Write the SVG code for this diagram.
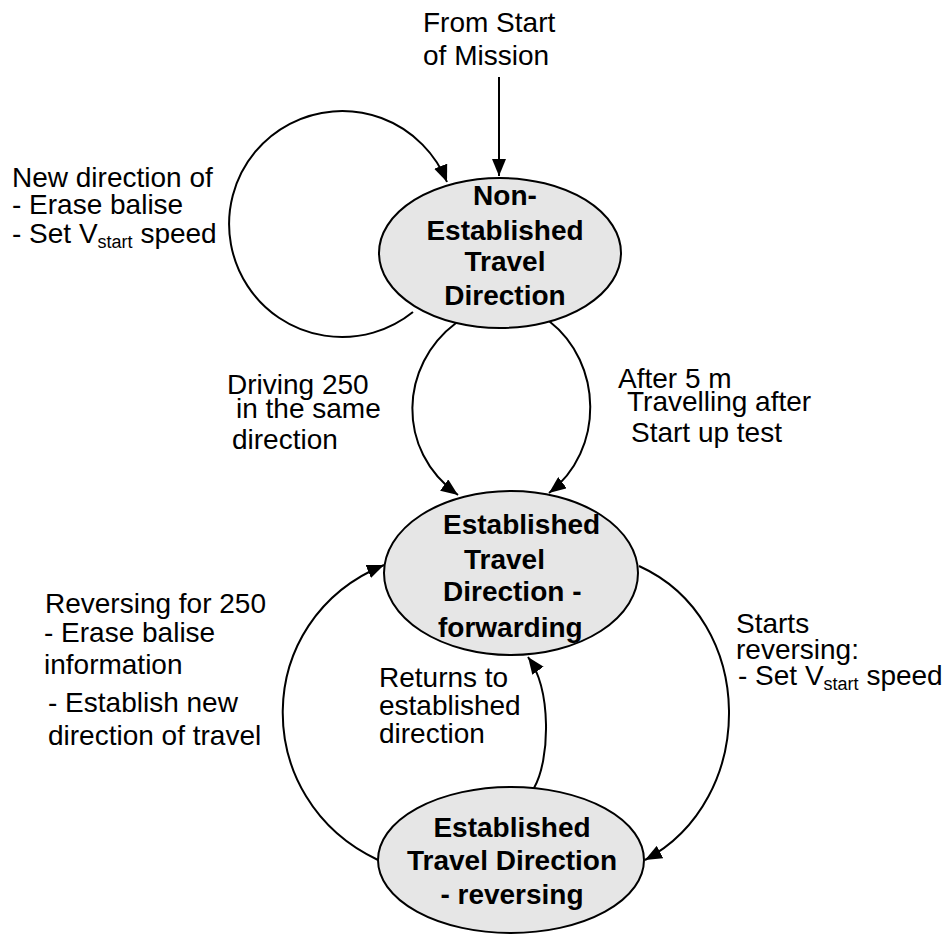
<svg xmlns="http://www.w3.org/2000/svg" width="949" height="934" viewBox="0 0 949 934">
  <style>
    .state { fill: #e6e6e6; stroke: #000; stroke-width: 2; }
    .name { font-family: "Liberation Sans", Arial, sans-serif; font-size: 28px; font-weight: bold; fill: #000; }
    .label { font-family: "Liberation Sans", Arial, sans-serif; font-size: 28px; fill: #000; }
    .sub { font-size: 18px; }
    .edge { fill: none; stroke: #000; stroke-width: 2; }
  </style>
  <defs>
    <marker id="arrow" markerUnits="userSpaceOnUse" markerWidth="18" markerHeight="14" refX="17" refY="7" orient="auto">
      <path d="M0,0 L17,7 L0,14 z" fill="#000"/>
    </marker>
  </defs>

  <rect width="949" height="934" fill="#fff"/>

  <!-- transitions -->
  <g id="connectors">
    <path class="edge" d="M499,77 L499,176" marker-end="url(#arrow)"/>
    <path class="edge" d="M413,312 A113,113 0 1 1 447,182" marker-end="url(#arrow)"/>
    <path class="edge" d="M456,323 C400,365 395,450 458,495" marker-end="url(#arrow)"/>
    <path class="edge" d="M549,321 C603,363 605,450 549,493" marker-end="url(#arrow)"/>
    <path class="edge" d="M378,860 C250,800 250,620 384,565" marker-end="url(#arrow)"/>
    <path class="edge" d="M639,566 C758,620 758,800 645,860" marker-end="url(#arrow)"/>
    <path class="edge" d="M534,788 C550,760 552,690 528,657" marker-end="url(#arrow)"/>
  </g>

  <!-- transition labels -->
  <g id="labels">
    <text class="label" x="423" y="32">From Start</text>
    <text class="label" x="423" y="65">of Mission</text>

    <text class="label" x="12" y="187">New direction of</text>
    <text class="label" x="12" y="214">- Erase balise</text>
    <text class="label" x="12" y="243">- Set V<tspan class="sub" dy="5">start</tspan><tspan dy="-5"> speed</tspan></text>

    <text class="label" x="227" y="394">Driving 250</text>
    <text class="label" x="236" y="418">in the same</text>
    <text class="label" x="232" y="449">direction</text>

    <text class="label" x="618" y="388">After 5 m</text>
    <text class="label" x="627" y="411">Travelling after</text>
    <text class="label" x="631" y="442">Start up test</text>

    <text class="label" x="45" y="613">Reversing for 250</text>
    <text class="label" x="44" y="642">- Erase balise</text>
    <text class="label" x="44" y="674">information</text>
    <text class="label" x="48" y="712">- Establish new</text>
    <text class="label" x="48" y="745">direction of travel</text>

    <text class="label" x="379" y="687">Returns to</text>
    <text class="label" x="379" y="715">established</text>
    <text class="label" x="379" y="743">direction</text>

    <text class="label" x="736" y="633">Starts</text>
    <text class="label" x="736" y="659">reversing:</text>
    <text class="label" x="738" y="685">- Set V<tspan class="sub" dy="5">start</tspan><tspan dy="-5"> speed</tspan></text>
  </g>

  <!-- states -->
  <g id="non-established">
    <ellipse class="state" cx="500" cy="253" rx="121" ry="75"/>
    <text class="name" text-anchor="middle" x="505" y="205">Non-</text>
    <text class="name" text-anchor="middle" x="505" y="240">Established</text>
    <text class="name" text-anchor="middle" x="505" y="271">Travel</text>
    <text class="name" text-anchor="middle" x="505" y="305">Direction</text>
  </g>

  <g id="established-forwarding">
    <ellipse class="state" cx="511" cy="573" rx="127" ry="82"/>
    <text class="name" x="443" y="534">Established</text>
    <text class="name" x="464" y="569">Travel</text>
    <text class="name" x="443" y="601">Direction -</text>
    <text class="name" x="438" y="637">forwarding</text>
  </g>

  <g id="established-reversing">
    <ellipse class="state" cx="511" cy="860" rx="133" ry="73"/>
    <text class="name" text-anchor="middle" x="512" y="837">Established</text>
    <text class="name" text-anchor="middle" x="512" y="870">Travel Direction</text>
    <text class="name" text-anchor="middle" x="512" y="904">- reversing</text>
  </g>
</svg>
